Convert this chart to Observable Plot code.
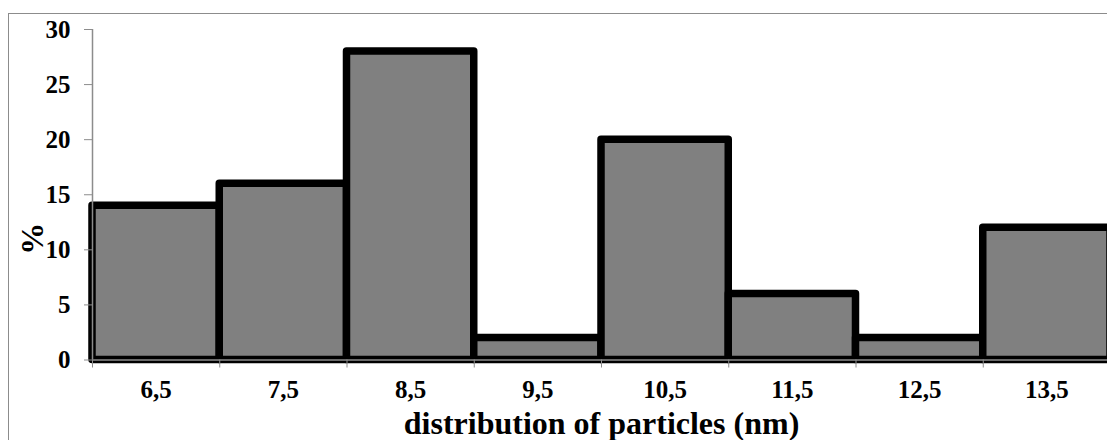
<!DOCTYPE html>
<html>
<head>
<meta charset="utf-8">
<script src="https://cdn.jsdelivr.net/npm/d3@7"></script>
<script src="https://cdn.jsdelivr.net/npm/@observablehq/plot@0.6"></script>
<style>
html, body { margin: 0; padding: 0; background: #fff; overflow: hidden; width: 1107px; height: 440px; }
#wrap { position: relative; width: 1107px; height: 440px; overflow: hidden; }
#border { position: absolute; left: 8px; top: 12.5px; width: 1200px; height: 600px; border: 1.5px solid #8c8c8c; box-sizing: border-box; }
#chart { position: absolute; left: 0; top: 0; width: 1130px; }
#chart svg { max-width: none !important; }
</style>
</head>
<body>
<div id="wrap"><div id="border"></div><div id="chart"></div></div>
<script>
const categories = ["6,5", "7,5", "8,5", "9,5", "10,5", "11,5", "12,5", "13,5"];
const percents = [14, 16, 28, 2, 20, 6, 2, 12];
const yTicks = [0, 5, 10, 15, 20, 25, 30];
const xTitle = "distribution of particles (nm)";
const yTitle = "%";

const data = categories.map((c, i) => ({label: c, i0: i, i1: i + 1, mid: i + 0.5, value: percents[i]}));
const n = categories.length;
const font = "'Liberation Serif', 'Times New Roman', serif";

const chart = Plot.plot({
  width: 1130,
  height: 440,
  marginLeft: 92,
  marginRight: 20,
  marginTop: 29,
  marginBottom: 80.5,
  style: {fontFamily: font, fontWeight: "bold", background: "transparent", overflow: "visible", maxWidth: "none"},
  x: {type: "linear", domain: [0, n], axis: null},
  y: {domain: [0, 30], axis: null},
  marks: [
    Plot.rectY(data, {x1: "i0", x2: "i1", y: "value", fill: "#808080", stroke: "#000", strokeWidth: 7.5, strokeLinejoin: "round"}),
    Plot.ruleX([0], {y1: 0, y2: 30, stroke: "#8c8c8c", strokeWidth: 1.5}),
    Plot.ruleY([0], {x1: 0, x2: n, stroke: "#8c8c8c", strokeWidth: 1.5}),
    Plot.axisY({ticks: yTicks, tickSize: 8, tickFormat: () => "", stroke: "#8c8c8c", label: null}),
    Plot.axisX({ticks: d3.range(0, n + 1), tickSize: 8, tickFormat: () => "", stroke: "#8c8c8c", label: null}),
    Plot.text(yTicks, {y: d => d, text: d => String(d), frameAnchor: "left", dx: -22, textAnchor: "end", fontSize: 25, fontWeight: "bold", fill: "#000"}),
    Plot.text(data, {x: "mid", text: "label", frameAnchor: "bottom", dy: 30, fontSize: 25, fontWeight: "bold", fill: "#000", lineAnchor: "middle"}),
    Plot.text([xTitle], {x: n / 2, frameAnchor: "bottom", dy: 64, text: d => d, fontSize: 32, fontWeight: "bold", fill: "#000", lineAnchor: "middle"}),
    Plot.text([yTitle], {frameAnchor: "left", dx: -60, dy: 44, text: d => d, rotate: -90, textAnchor: "middle", fontSize: 32, fontWeight: "bold", fill: "#000"})
  ]
});
document.getElementById("chart").appendChild(chart);
</script>
</body>
</html>
